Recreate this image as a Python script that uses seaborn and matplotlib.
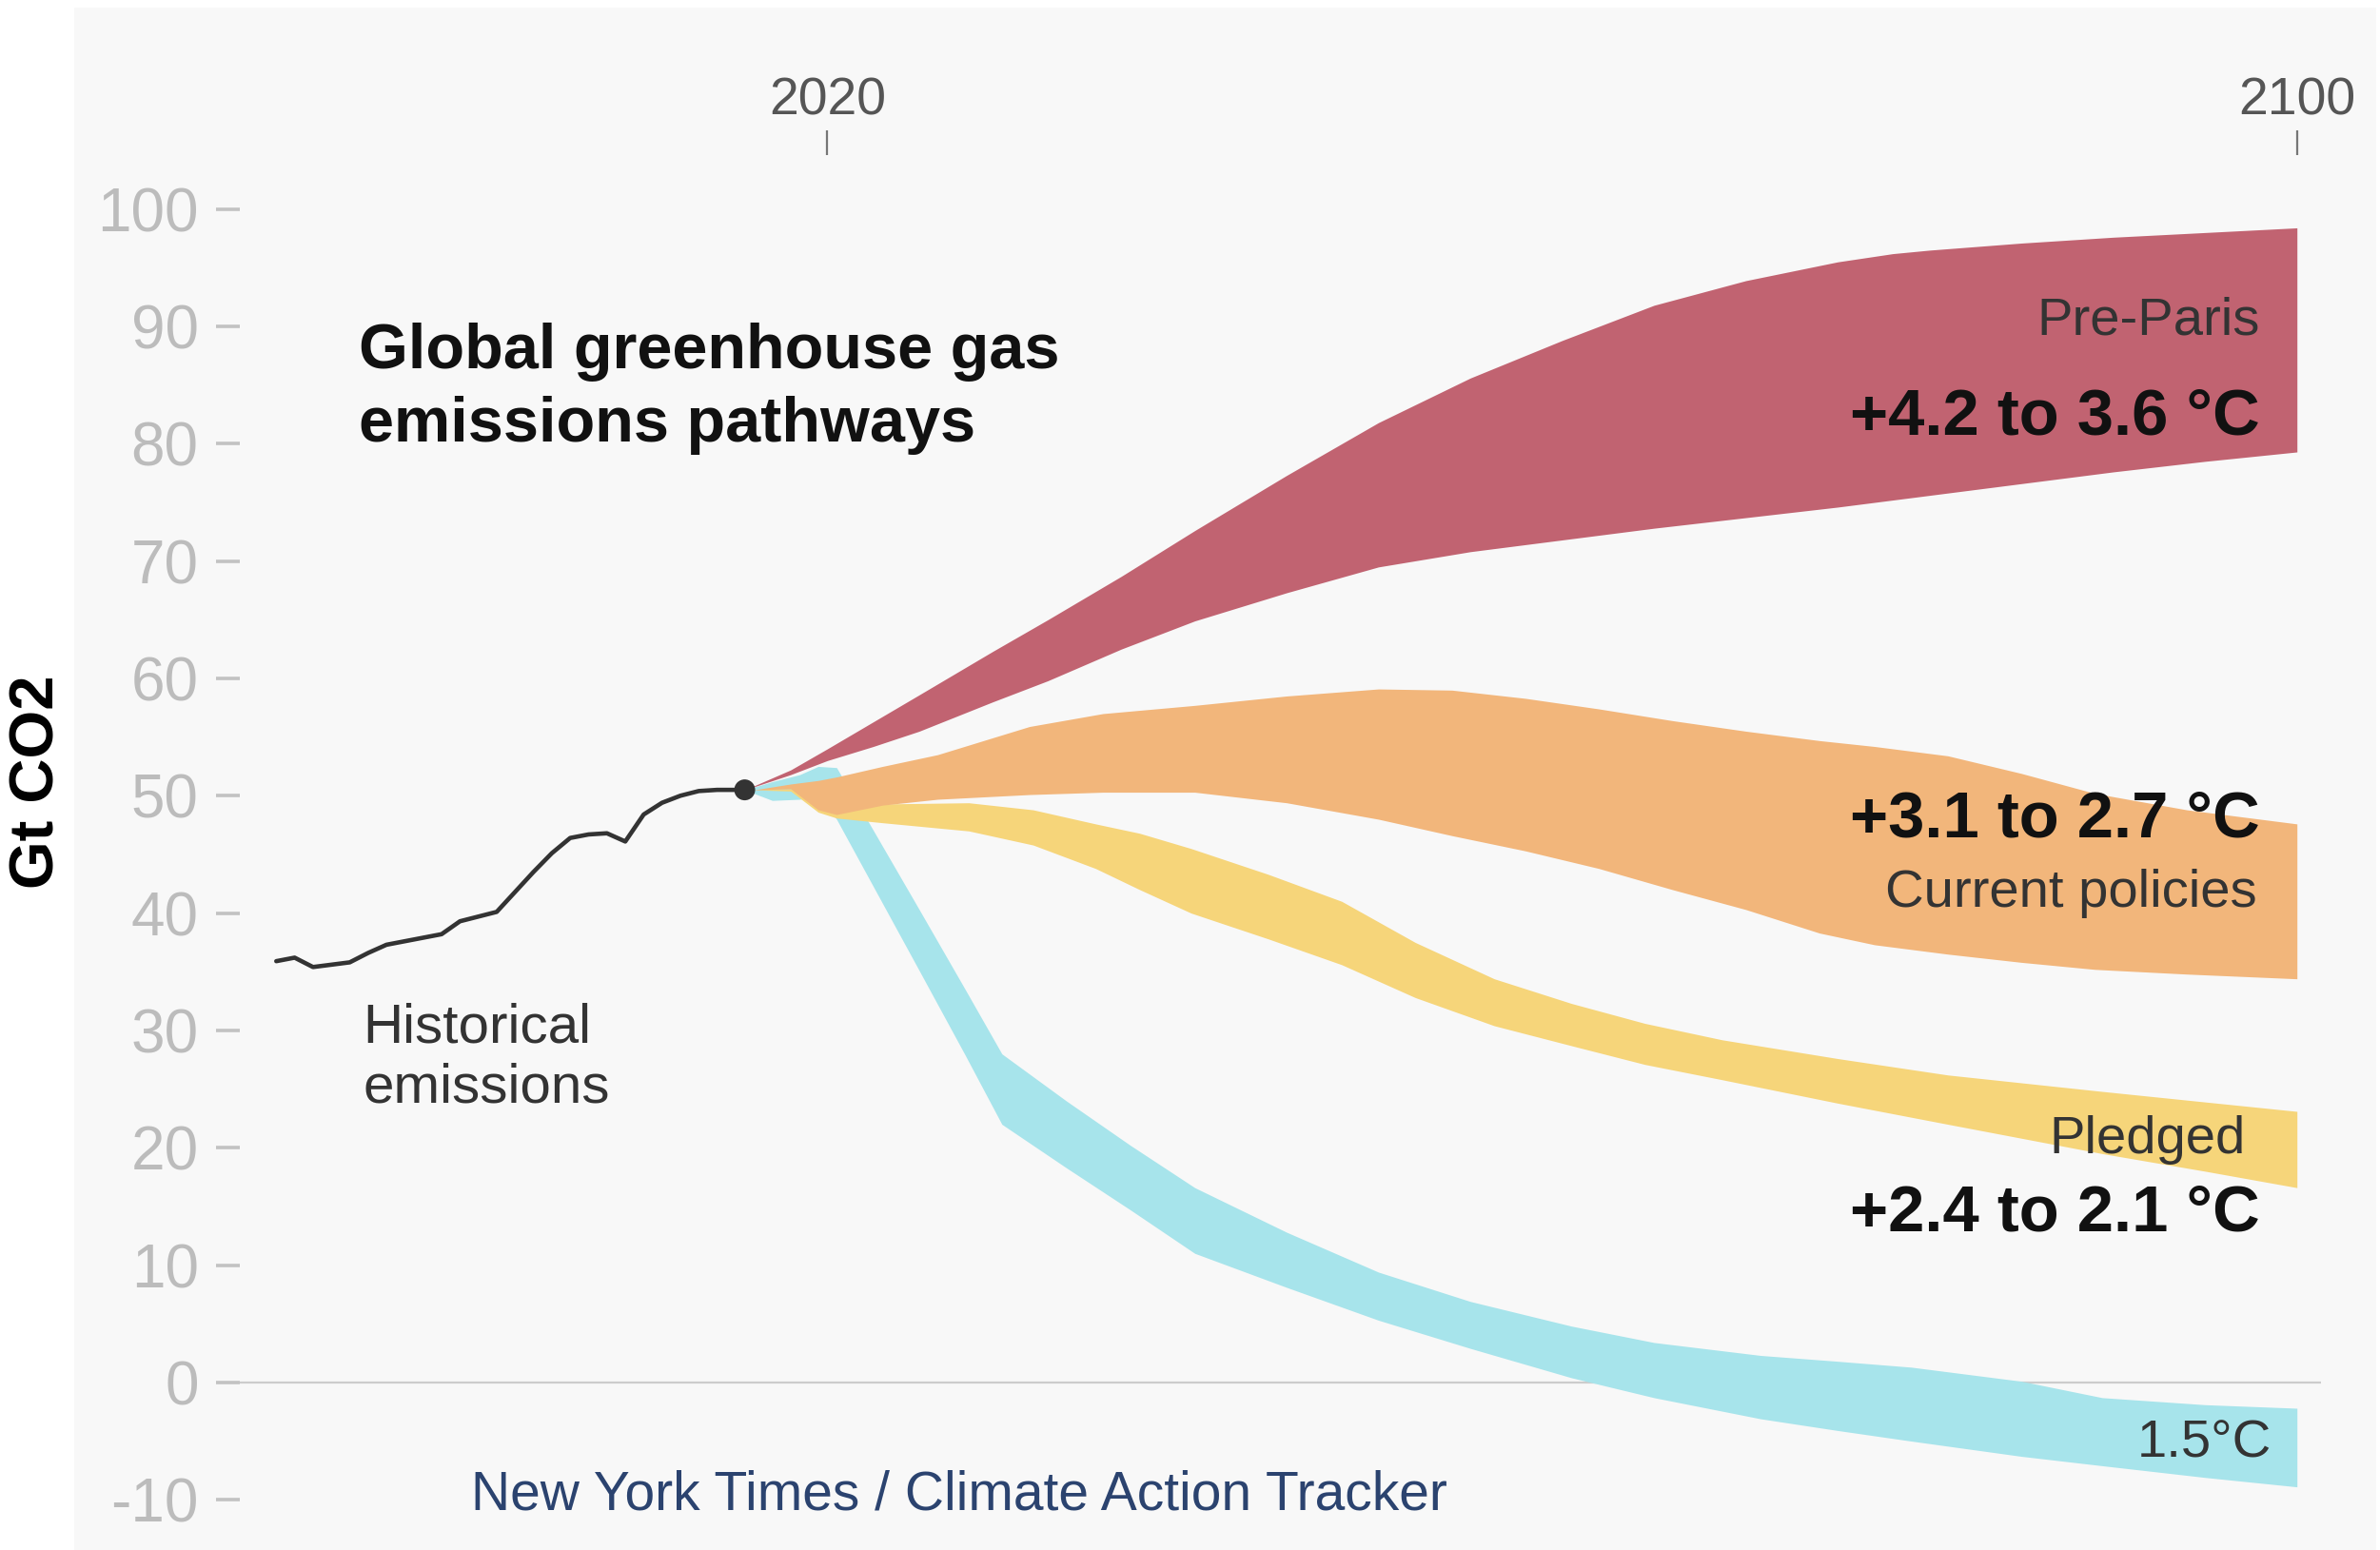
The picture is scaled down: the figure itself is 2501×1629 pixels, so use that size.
import matplotlib
matplotlib.use('Agg')
import matplotlib.pyplot as plt
from matplotlib.patches import Rectangle
import pandas as pd
import seaborn as sns

# historical emissions, Gt CO2
hist_years = [1990, 1991, 1992, 1993, 1994, 1995, 1996, 1997, 1998, 1999, 2000, 2001, 2002,
              2003, 2004, 2005, 2006, 2007, 2008, 2009, 2010, 2011, 2012, 2013, 2014, 2015, 2015.5]
hist_values = [35.9, 36.2, 35.4, 35.6, 35.8, 36.6, 37.3, 37.6, 37.9, 38.2, 39.3, 39.7, 40.1,
               41.8, 43.5, 45.1, 46.4, 46.7, 46.8, 46.1, 48.4, 49.4, 50.0, 50.4, 50.5, 50.5, 50.5]

# pathway bands (upper / lower edge)
preparis_years = [2015.5, 2018, 2020, 2022.5, 2025, 2029, 2032, 2036, 2040, 2045, 2050, 2055,
                  2060, 2065, 2070, 2075, 2078, 2080, 2085, 2090, 2095, 2100]
preparis_upper = [50.5, 52.2, 54.0, 56.3, 58.6, 62.3, 65.0, 68.7, 72.6, 77.3, 81.8, 85.6,
                  88.8, 91.8, 93.9, 95.5, 96.2, 96.5, 97.1, 97.6, 98.0, 98.4]
preparis_lower = [50.5, 51.8, 53.0, 54.2, 55.5, 58.0, 59.8, 62.5, 64.9, 67.3, 69.5, 70.8,
                  71.8, 72.8, 73.7, 74.6, 75.2, 75.6, 76.6, 77.6, 78.5, 79.3]

current_years = [2016, 2018, 2019.5, 2020.5, 2023, 2026, 2031, 2035, 2040, 2045, 2050, 2054,
                 2058, 2062, 2066, 2070, 2074, 2077, 2081, 2085, 2089, 2094, 2100]
current_upper = [50.5, 51.0, 51.3, 51.6, 52.5, 53.5, 55.9, 57.0, 57.7, 58.5, 59.1, 59.0,
                 58.3, 57.4, 56.4, 55.5, 54.7, 54.2, 53.4, 51.9, 50.2, 48.8, 47.6]
current_lower = [50.5, 50.6, 48.8, 48.4, 49.2, 49.7, 50.1, 50.3, 50.3, 49.4, 48.0, 46.6,
                 45.3, 43.8, 42.0, 40.3, 38.3, 37.3, 36.5, 35.8, 35.2, 34.8, 34.4]

pledged_years = [2016, 2018, 2019.5, 2020.5, 2023, 2027.7, 2031.2, 2034.6, 2037, 2039.8, 2044,
                 2048, 2052, 2056.3, 2060.5, 2064.5, 2068.7, 2075, 2081, 2089.4, 2095, 2100]
pledged_upper = [50.5, 50.6, 49.3, 48.8, 49.3, 49.4, 48.8, 47.6, 46.8, 45.5, 43.3,
                 41.0, 37.5, 34.4, 32.3, 30.6, 29.2, 27.6, 26.2, 24.8, 23.9, 23.1]
pledged_lower = [50.5, 50.4, 48.6, 48.1, 47.7, 47.0, 45.8, 43.8, 42.0, 40.0, 37.8,
                 35.6, 32.8, 30.4, 28.7, 27.1, 25.8, 23.8, 22.0, 19.5, 18.0, 16.6]

c15_years = [2015.5, 2017, 2018.5, 2019.5, 2020.5, 2022, 2025, 2027.5, 2029.5, 2033, 2036.5,
             2040, 2045, 2050, 2055, 2060.5, 2065, 2070.8, 2075, 2079, 2085, 2089.4, 2095, 2100]
c15_upper = [50.5, 51.2, 51.8, 52.5, 52.4, 48.4, 40.3, 33.5, 28.0, 24.0, 20.2,
             16.6, 12.8, 9.4, 6.9, 4.8, 3.4, 2.3, 1.8, 1.3, 0.1, -1.3, -1.9, -2.2]
c15_lower = [50.5, 49.6, 49.7, 50.0, 48.0, 43.7, 35.1, 27.9, 22.0, 18.3, 14.7,
             11.0, 8.1, 5.3, 2.9, 0.4, -1.3, -3.1, -4.1, -5.0, -6.3, -7.1, -8.1, -8.9]

y_ticks = [-10, 0, 10, 20, 30, 40, 50, 60, 70, 80, 90, 100]
x_ticks = [2020, 2100]

sns.set_theme(style='white')
plt.rcParams['font.family'] = ['Liberation Sans', 'DejaVu Sans']
plt.rcParams['axes.unicode_minus'] = False

fig = plt.figure(figsize=(25.01, 16.29), dpi=100, facecolor='white')
# light grey panel behind the chart
fig.patches.append(Rectangle((0.0312, 0.0), 0.9672, 0.9951, transform=fig.transFigure,
                             facecolor='#f8f8f8', edgecolor='none', zorder=-10))

ax = fig.add_axes([0.10064, 0.013505, 0.87449, 0.88644])
ax.set_facecolor('none')

bands = [
    (c15_years, c15_lower, c15_upper, '#a7e4eb'),
    (pledged_years, pledged_lower, pledged_upper, '#f6d57a'),
    (current_years, current_lower, current_upper, '#f2b67b'),
    (preparis_years, preparis_lower, preparis_upper, '#c16371'),
]
for i, (yrs, lo, hi, col) in enumerate(bands):
    ax.fill_between(yrs, lo, hi, color=col, linewidth=0, zorder=2 + i)

ax.axhline(0, color='#cccccc', linewidth=1.6, zorder=1)

hist = pd.DataFrame({'year': hist_years, 'value': hist_values})
sns.lineplot(data=hist, x='year', y='value', color='#333333', linewidth=3.3, ax=ax, zorder=8)
sns.scatterplot(x=hist_years[-1:], y=hist_values[-1:], s=250, color='#333333',
                edgecolor='none', ax=ax, zorder=9)

ax.set_xlim(1988.0, 2101.3)
ax.set_ylim(-12.5, 104.6)
ax.set_xlabel('')
ax.set_ylabel('')
for s in ax.spines.values():
    s.set_visible(False)

ax.set_yticks(y_ticks)
ax.set_yticklabels([str(v) for v in y_ticks])
ax.tick_params(axis='y', left=True, length=18, width=2.6, color='#c2c2c2',
               labelcolor='#bcbcbc', labelsize=46, pad=13)
ax.xaxis.tick_top()
ax.set_xticks(x_ticks)
ax.set_xticklabels([str(v) for v in x_ticks])
ax.tick_params(axis='x', top=True, bottom=False, length=19, width=1.6, color='#777777',
               labelcolor='#555555', labelsize=40, pad=3)

# title and annotations
ax.text(1994.5, 86.45, 'Global greenhouse gas', fontsize=48, fontweight='bold',
        color='#111111', ha='left', va='baseline')
ax.text(1994.5, 80.2, 'emissions pathways', fontsize=48, fontweight='bold',
        color='#111111', ha='left', va='baseline')
ax.text(1994.7, 29.0, 'Historical', fontsize=42, color='#333333', ha='left', va='baseline', zorder=10)
ax.text(1994.7, 23.9, 'emissions', fontsize=42, color='#333333', ha='left', va='baseline', zorder=10)

ax.text(2098.0, 89.3, 'Pre-Paris', fontsize=40.5, color='#333333', ha='right', va='baseline', zorder=10)
ax.text(2098.0, 80.8, '+4.2 to 3.6 °C', fontsize=49.5, fontweight='bold', color='#111111',
        ha='right', va='baseline', zorder=10)
ax.text(2098.0, 46.5, '+3.1 to 2.7 °C', fontsize=49.5, fontweight='bold', color='#111111',
        ha='right', va='baseline', zorder=10)
ax.text(2097.8, 40.5, 'Current policies', fontsize=40.5, color='#333333', ha='right',
        va='baseline', zorder=10)
ax.text(2097.2, 19.5, 'Pledged', fontsize=40.5, color='#333333', ha='right', va='baseline', zorder=10)
ax.text(2098.0, 12.9, '+2.4 to 2.1 °C', fontsize=49.5, fontweight='bold', color='#111111',
        ha='right', va='baseline', zorder=10)
ax.text(2098.6, -6.4, '1.5°C', fontsize=40.5, color='#333333', ha='right', va='baseline', zorder=10)
ax.text(2000.6, -10.84, 'New York Times / Climate Action Tracker', fontsize=41,
        color='#2b436f', ha='left', va='baseline', zorder=10)

fig.text(40 / 2501, 1 - 821.5 / 1629, 'Gt CO2', rotation=90, fontsize=47, fontweight='bold',
         color='black', ha='center', va='center')

fig.savefig('out.png', dpi=100, facecolor='white')
